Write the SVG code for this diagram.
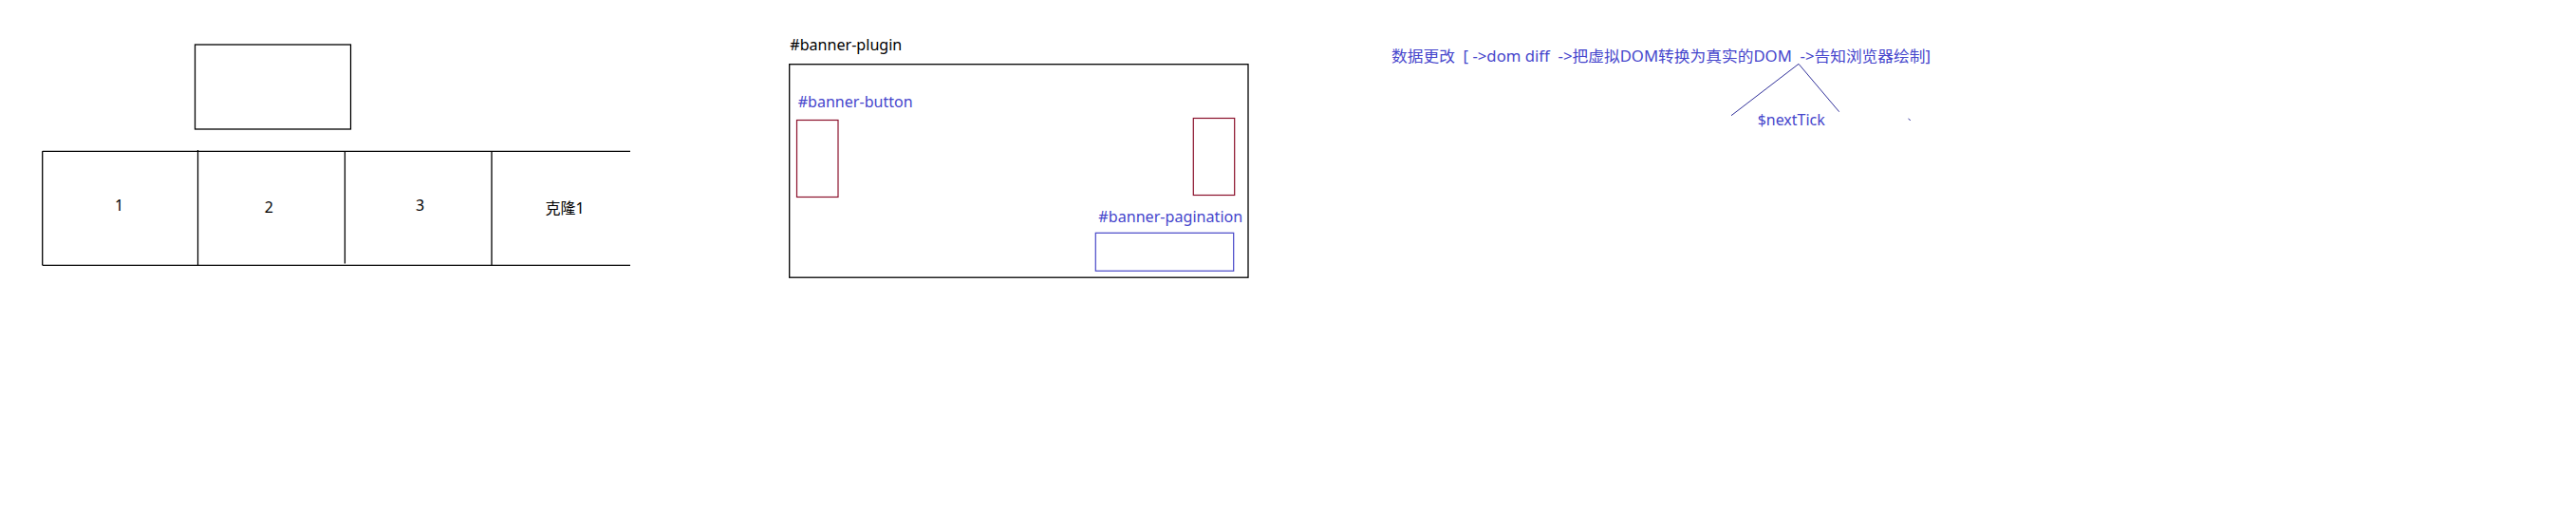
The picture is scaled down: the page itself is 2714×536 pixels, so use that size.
<svg xmlns="http://www.w3.org/2000/svg" width="2714" height="536" viewBox="0 0 2714 536">
<style>
  text { font-family: "Noto Sans", "Noto Sans CJK SC", sans-serif; font-size: 16px; }
  .k { fill: #000000; }
  .b { fill: #4646cc; }
  .box { fill: none; stroke: #000000; stroke-width: 1.3; }
  .red { fill: none; stroke: #8a0f2a; stroke-width: 1.2; }
  .blu { fill: none; stroke: #4646c8; stroke-width: 1.2; }
  .ln { stroke: #000000; stroke-width: 1.3; fill: none; }
  .nav { stroke: #30309a; stroke-width: 1; fill: none; }
</style>
<rect width="2714" height="536" fill="#ffffff"/>

<g id="top-box">
  <rect class="box" x="205.5" y="47" width="164" height="89"/>
</g>

<g id="slide-table">
  <line class="ln" x1="44.7" y1="159.3" x2="664" y2="159.3"/>
  <line class="ln" x1="44.7" y1="279.3" x2="664" y2="279.3"/>
  <line class="ln" x1="44.7" y1="159.3" x2="44.7" y2="279.3"/>
</g>
<g id="slide-1">
  <line class="ln" x1="208.5" y1="158" x2="208.5" y2="279.3"/>
  <text class="k" x="125.7" y="222" text-anchor="middle">1</text>
</g>
<g id="slide-2">
  <line class="ln" x1="363.4" y1="159.3" x2="363.4" y2="277.5"/>
  <text class="k" x="283.3" y="224" text-anchor="middle">2</text>
</g>
<g id="slide-3">
  <line class="ln" x1="518" y1="159.3" x2="518" y2="279.3"/>
  <text class="k" x="442.7" y="221.5" text-anchor="middle">3</text>
</g>
<g id="slide-clone">
  <text class="k" x="595" y="225" text-anchor="middle">克隆1</text>
</g>

<g id="banner-plugin">
  <text class="k" x="832.3" y="52.7" textLength="118" lengthAdjust="spacingAndGlyphs">#banner-plugin</text>
  <rect class="box" x="831.7" y="67.7" width="483.3" height="224.5"/>
</g>
<g id="banner-button">
  <text class="b" x="840.7" y="113.3" textLength="121" lengthAdjust="spacingAndGlyphs">#banner-button</text>
  <rect class="red" x="839.5" y="126.5" width="43.5" height="81"/>
  <rect class="red" x="1257.3" y="124.5" width="43.4" height="81"/>
</g>
<g id="banner-pagination">
  <text class="b" x="1157.3" y="234.3" textLength="152" lengthAdjust="spacingAndGlyphs">#banner-pagination</text>
  <rect class="blu" x="1154.3" y="245.3" width="145.4" height="40"/>
</g>

<g id="flow-text">
  <text class="b" x="1466" y="65" textLength="568" lengthAdjust="spacingAndGlyphs" xml:space="preserve">数据更改  [ ->dom diff  ->把虚拟DOM转换为真实的DOM  ->告知浏览器绘制]</text>
</g>
<g id="nexttick">
  <text class="b" x="1851.7" y="132.3" textLength="71" lengthAdjust="spacingAndGlyphs">$nextTick</text>
</g>
<g id="connectors">
  <polyline class="nav" points="1824,121.7 1895,67.3 1937.7,117.7"/>
  <line class="nav" x1="2010.5" y1="125" x2="2012.8" y2="126.7"/>
</g>
</svg>
